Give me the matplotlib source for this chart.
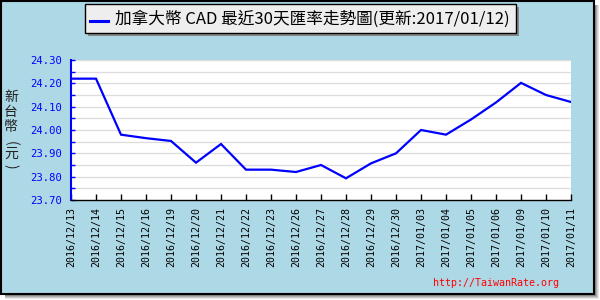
import matplotlib
matplotlib.use("Agg")
import matplotlib.pyplot as plt
from matplotlib.patches import Rectangle
from matplotlib.lines import Line2D
import numpy as np

dates = ["2016/12/13", "2016/12/14", "2016/12/15", "2016/12/16", "2016/12/19",
         "2016/12/20", "2016/12/21", "2016/12/22", "2016/12/23", "2016/12/26",
         "2016/12/27", "2016/12/28", "2016/12/29", "2016/12/30", "2017/01/03",
         "2017/01/04", "2017/01/05", "2017/01/06", "2017/01/09", "2017/01/10",
         "2017/01/11"]
rates = [24.22, 24.22, 23.98, 23.965, 23.953, 23.86, 23.94, 23.83, 23.83, 23.82,
         23.85, 23.793, 23.857, 23.90, 24.00, 23.98, 24.045, 24.118, 24.202, 24.15,
         24.12]
yticks = [23.70, 23.80, 23.90, 24.00, 24.10, 24.20, 24.30]
title = "加拿大幣 CAD 最近30天匯率走勢圖(更新:2017/01/12)"
ylabel_chars = ["新", "台", "幣", "(", "元", ")"]
watermark = "http://TaiwanRate.org"

W, H = 600, 300
fig = plt.figure(figsize=(6, 3), dpi=100, facecolor="white")

def fx(x):
    return x / W

def fy(y):
    return 1 - y / H

def rect(x0, y0, x1, y1, z=-5, **kw):
    r = Rectangle((fx(x0), fy(y1)), fx(x1) - fx(x0), fy(y0) - fy(y1),
                  transform=fig.transFigure, figure=fig, zorder=z, **kw)
    fig.patches.append(r)

# outer shadow (gradient)
for i, g in enumerate(["#666666", "#888888", "#aaaaaa", "#cccccc", "#e6e6e6"]):
    rect(594 + i, 5, 595 + i, 295 + i, facecolor=g, edgecolor="none")
    rect(5, 294 + i, 595 + i, 295 + i, facecolor=g, edgecolor="none")
# main background
rect(0.5, 0.5, 593.5, 293.5, z=-4, facecolor="#add8e6", edgecolor="black", linewidth=1.5)

ax = fig.add_axes([fx(71), fy(200), fx(571) - fx(71), fy(60) - fy(200)])
ax.set_zorder(1)
ax.set_facecolor("white")
x = np.arange(len(dates))
ax.plot(x, rates, color="#0000ff", linewidth=1.6, solid_joinstyle="miter")
ax.set_xlim(0, len(dates) - 1)
ax.set_ylim(23.70, 24.30)
ax.set_yticks(yticks)
ax.set_yticklabels([f"{v:.2f}" for v in yticks], family="DejaVu Sans Mono",
                   fontsize=7.6, color="#0000ff")
ax.set_yticks(np.arange(23.75, 24.30, 0.1), minor=True)
ax.set_xticks(x)
ax.set_xticklabels(dates, rotation=90, family="DejaVu Sans Mono", fontsize=7.2,
                   color="black")
for v in np.arange(23.75, 24.31, 0.05):
    ax.axhline(v, color="#dcdcdc", linewidth=0.9, zorder=0)
ax.tick_params(axis="y", which="both", direction="in", length=3, width=1,
               color="#0000ff", pad=6.5)
ax.tick_params(axis="x", direction="in", length=4, width=1, color="black", pad=5)
for s in ["top", "right"]:
    ax.spines[s].set_visible(False)
ax.spines["left"].set_color("#0000ff")
ax.spines["left"].set_linewidth(1.5)
ax.spines["bottom"].set_color("black")
ax.spines["bottom"].set_linewidth(1)

# y label vertical chars
ys = [97, 112, 127, 143, 154, 166]
for ch, yy in zip(ylabel_chars, ys):
    rot = -90 if ch in "()" else 0
    fig.text(fx(11), fy(yy), ch, ha="center", va="center", fontsize=10,
             rotation=rot, family=["Noto Sans CJK TC", "DejaVu Sans"],
             color="#222222")

# title box with shadow
rect(88, 7, 519, 36, z=5, facecolor="#888888", edgecolor="none")
rect(85, 4, 516, 33, z=6, facecolor="#eeeeee", edgecolor="black", linewidth=1)
fig.lines.append(Line2D([fx(90), fx(108)], [fy(21), fy(21)], color="#0000ff",
                        linewidth=2.2, transform=fig.transFigure, figure=fig,
                        zorder=7))
fig.text(fx(115), fy(19), title, ha="left", va="center", fontsize=12,
         family=["Noto Sans CJK TC", "DejaVu Sans"], color="black", zorder=8)

fig.text(fx(559), fy(283), watermark, ha="right", va="center", fontsize=7.2,
         family="DejaVu Sans Mono", color="#ff0000")

fig.savefig("out.png", dpi=100, facecolor=fig.get_facecolor())
